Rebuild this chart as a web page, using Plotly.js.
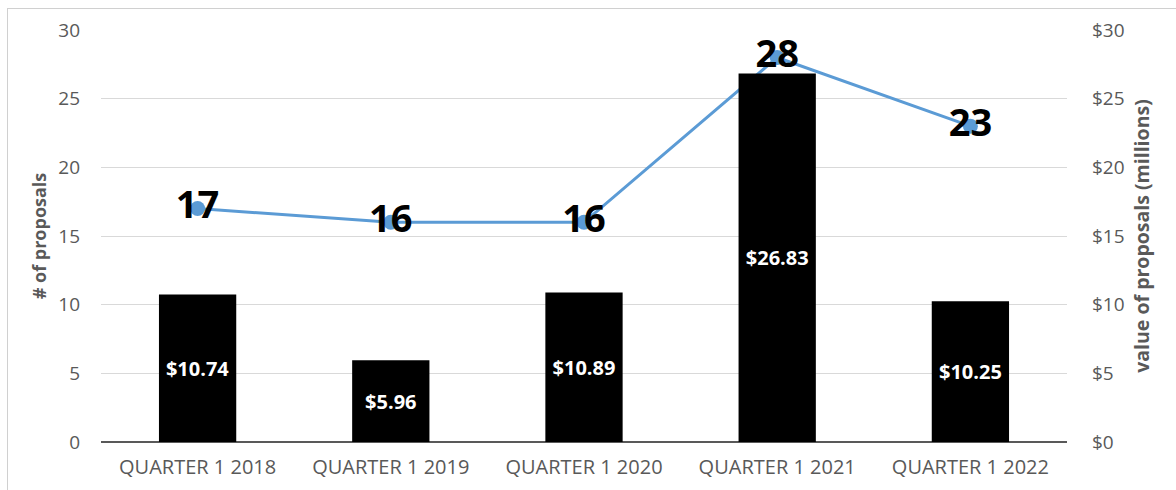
<!DOCTYPE html>
<html>
<head>
<meta charset="utf-8">
<script src="https://cdn.plot.ly/plotly-3.0.1.min.js"></script>
<style>
html,body{margin:0;padding:0;background:#fff;}
#wrap{position:relative;width:1176px;height:490px;overflow:hidden;}
#frame{position:absolute;left:7px;top:8px;width:1200px;height:600px;border-left:1px solid #d0d0d0;border-top:1px solid #d0d0d0;pointer-events:none;}
#chart{position:absolute;left:0;top:0;width:1176px;height:490px;}
</style>
</head>
<body>
<div id="wrap"><div id="chart"></div><div id="frame"></div></div>
<script>
const categories = ["QUARTER 1 2018", "QUARTER 1 2019", "QUARTER 1 2020", "QUARTER 1 2021", "QUARTER 1 2022"];
const proposalCounts = [17, 16, 16, 28, 23];
const proposalValues = [10.74, 5.96, 10.89, 26.83, 10.25];
const countTicks = [0, 5, 10, 15, 20, 25, 30];
const valueTicks = [0, 5, 10, 15, 20, 25, 30];
const valueTickLabels = valueTicks.map(v => "$" + v);

const FONT = "'Open Sans', sans-serif";

const bars = {
  type: "bar",
  x: categories,
  y: proposalValues,
  yaxis: "y2",
  width: 0.4,
  marker: {color: "#000000"},
  text: proposalValues.map(v => "$" + v.toFixed(2)),
  textposition: "inside",
  insidetextanchor: "middle",
  textangle: 0,
  textfont: {family: FONT, size: 20, color: "#ffffff", weight: "bold"},
  hoverinfo: "skip",
  cliponaxis: false
};

const line = {
  type: "scatter",
  mode: "lines+markers+text",
  x: categories,
  y: proposalCounts,
  yaxis: "y",
  line: {color: "#5B9BD5", width: 3},
  marker: {color: "#5B9BD5", size: 15, symbol: "circle"},
  text: proposalCounts.map(String),
  textposition: "middle center",
  textfont: {family: FONT, size: 38, color: "#000000", weight: "bold"},
  cliponaxis: false
};

const layout = {
  width: 1176,
  height: 490,
  margin: {l: 101, r: 109, t: 30, b: 48},
  paper_bgcolor: "#ffffff",
  plot_bgcolor: "#ffffff",
  showlegend: false,
  font: {family: FONT, color: "#595959", size: 18},
  xaxis: {
    type: "category",
    tickfont: {family: FONT, size: 20, color: "#595959"},
    showgrid: false,
    showline: false,
    ticks: "",
    zeroline: false,
    ticklabelstandoff: 11
  },
  yaxis: {
    range: [0, 30],
    tickvals: countTicks,
    ticktext: countTicks.map(String),
    tickfont: {family: FONT, size: 19, color: "#595959"},
    showgrid: true,
    gridcolor: "#d9d9d9",
    gridwidth: 1,
    zeroline: true,
    zerolinecolor: "#595959",
    zerolinewidth: 1.5,
    ticks: "",
    ticklabelstandoff: 20,
    title: {text: "# of proposals", font: {family: FONT, size: 18, color: "#595959", weight: "bold"}, standoff: 6}
  },
  yaxis2: {
    overlaying: "y",
    side: "right",
    range: [0, 30],
    tickvals: valueTicks,
    ticktext: valueTickLabels,
    tickfont: {family: FONT, size: 19, color: "#595959"},
    showgrid: false,
    zeroline: false,
    ticks: "",
    ticklabelstandoff: 24,
    title: {text: "value of proposals (millions)", font: {family: FONT, size: 19.5, color: "#595959", weight: "bold"}, standoff: 11}
  }
};

Plotly.newPlot("chart", [bars, line], layout, {displayModeBar: false, staticPlot: true});
</script>
</body>
</html>
